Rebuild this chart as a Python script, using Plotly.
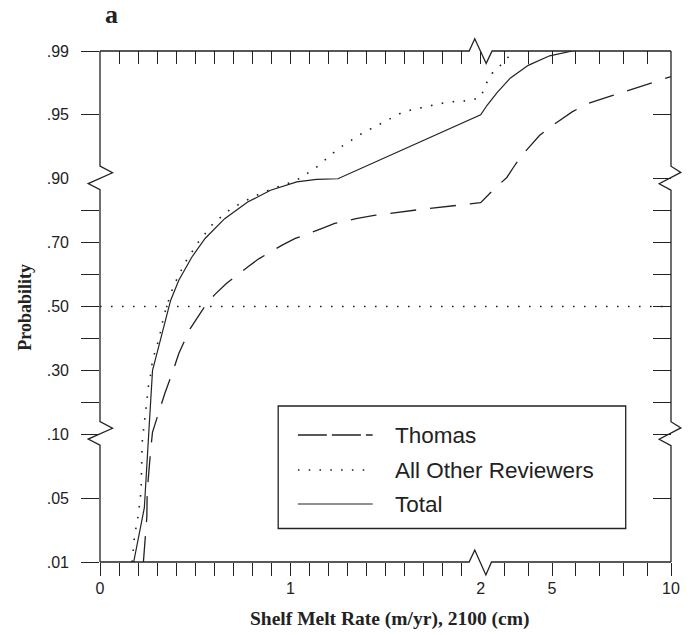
import numpy as np
import plotly.graph_objects as go

# ---------------- data (x: shelf melt rate m/yr, y: cumulative probability) ----------------
thomas_x = [0.228, 0.242, 0.246, 0.248, 0.255, 0.267, 0.276, 0.316, 0.340, 0.388, 0.414, 0.474,
            0.517, 0.560, 0.604, 0.664, 0.776, 0.836, 0.957, 1.026, 1.164, 1.233, 1.345, 1.448,
            1.672, 2.0, 2.55, 3.10, 3.38, 3.72, 4.48, 4.96, 5.86, 6.48, 7.52, 8.14, 9.24, 10.0]
thomas_p = [.010, .028, .038, .055, .069, .089, .107, .185, .227, .306, .353, .431,
            .472, .509, .538, .572, .624, .650, .692, .713, .744, .760, .775, .786,
            .803, .825, .867, .901, .909, .918, .934, .941, .952, .957, .962, .965, .970, .974]

others_x = [0.169, 0.181, 0.202, 0.216, 0.221, 0.228, 0.242, 0.255, 0.267, 0.276, 0.310, 0.336,
            0.371, 0.397, 0.448, 0.517, 0.595, 0.690, 0.802, 0.914, 1.026, 1.129, 1.224, 1.267,
            1.371, 1.483, 1.595, 1.707, 1.827, 1.948, 2.0, 2.25, 2.48, 2.83, 3.17, 3.4]
others_p = [.010, .026, .040, .056, .093, .107, .180, .253, .290, .332, .399, .472,
            .540, .577, .639, .702, .760, .807, .843, .871, .893, .908, .920, .925,
            .935, .944, .952, .955, .958, .959, .961, .970, .976, .981, .986, .990]

total_x = [0.177, 0.207, 0.233, 0.255, 0.267, 0.276, 0.290, 0.336, 0.371, 0.414, 0.483, 0.552,
           0.655, 0.776, 0.896, 1.034, 1.138, 1.25, 2.0, 2.27, 2.69, 3.24, 4.0, 4.90, 5.86]
total_p = [.010, .028, .044, .098, .227, .300, .332, .436, .519, .582, .655, .713,
           .775, .827, .864, .890, .898, .900, .950, .956, .964, .973, .981, .987, .990]

median_x = [0, 10]
median_p = [0.5, 0.5]

x_label_vals = [0, 1, 2, 5, 10]
x_label_text = ["0", "1", "2", "5", "10"]
y_label_vals = [.01, .05, .10, .30, .50, .70, .90, .95, .99]
y_label_text = [".01", ".05", ".10", ".30", ".50", ".70", ".90", ".95", ".99"]

x_ticks_bottom = [round(0.1 * i, 1) for i in range(20)] + list(range(3, 11))
x_ticks_top = [round(0.1 * i, 1) for i in range(21)] + list(range(3, 11))
y_ticks_left = [.01, .05, .10, .20, .30, .40, .50, .60, .70, .80, .95, .99]
y_ticks_right = [.01, .05, .10, .20, .30, .40, .50, .60, .70, .80, .90, .95, .99]

legend_names = ["Thomas", "All Other Reviewers", "Total"]
break_x = 2
break_p = [.10, .90]


# ---------------- broken scales ----------------
def xs(v):
    return np.interp(np.asarray(v, dtype=float), [0, 2, 10], [0, 2, 3])


def ys(v):
    return np.interp(np.asarray(v, dtype=float), [.01, .05, .10, .90, .95, .99], [0, 1, 2, 6, 7, 8])


# The page body has an 8px default margin: figure is sized/offset to fill the 691x635 window.
BODY = 8
W, H = 691 - BODY, 635 - BODY
PL, PT, PW, PH = 100, 51, 580, 511          # plot area in page pixels
ML, MT = PL - BODY, PT - BODY
MR, MB = W - ML - PW, H - MT - PH
XR, YR = [0, 3], [0, 8]


def px(x):  # page pixel -> paper
    return (x - PL) / PW


def py(y):
    return (PT + PH - y) / PH


def xpix(v):
    return PL + float(xs(v)) / XR[1] * PW


def ypix(v):
    return PT + PH - float(ys(v)) / YR[1] * PH


INK = "#222222"
SANS = "Liberation Sans, Arial, sans-serif"
SERIF = "Liberation Serif, Times New Roman, serif"

fig = go.Figure()

DASH_T = "26px,14px"
DOT = "1.6px,9.4px"

fig.add_trace(go.Scatter(x=xs(median_x), y=ys(median_p), mode="lines",
                         line=dict(color=INK, width=1.6, dash=DOT), showlegend=False, hoverinfo="skip"))
fig.add_trace(go.Scatter(x=xs(thomas_x), y=ys(thomas_p), mode="lines", name=legend_names[0],
                         line=dict(color=INK, width=1.3, dash=DASH_T), showlegend=False))
fig.add_trace(go.Scatter(x=xs(others_x), y=ys(others_p), mode="lines", name=legend_names[1],
                         line=dict(color=INK, width=1.6, dash=DOT), showlegend=False))
fig.add_trace(go.Scatter(x=xs(total_x), y=ys(total_p), mode="lines", name=legend_names[2],
                         line=dict(color=INK, width=1.2), showlegend=False))

# dummy traces so overlaid tick axes are drawn
for xa, ya in [("x2", "y"), ("x3", "y"), ("x", "y2"), ("x", "y3")]:
    fig.add_trace(go.Scatter(x=[None], y=[None], xaxis=xa, yaxis=ya, showlegend=False, hoverinfo="skip"))

common = dict(showgrid=False, zeroline=False, showline=False, tickmode="array")
tickfont = dict(family=SANS, size=16, color=INK)

fig.update_layout(
    width=W, height=H, margin=dict(l=ML, r=MR, t=MT, b=MB, pad=0),
    paper_bgcolor="white", plot_bgcolor="white", showlegend=False,
    xaxis=dict(range=XR, tickvals=list(xs(x_label_vals)), ticktext=x_label_text, ticks="",
               tickfont=tickfont, ticklabelstandoff=15, **common),
    xaxis2=dict(range=XR, overlaying="x", anchor="y", side="bottom", tickvals=list(xs(x_ticks_bottom)),
                ticks="outside", ticklen=13, tickwidth=1.3, tickcolor=INK, showticklabels=False, **common),
    xaxis3=dict(range=XR, overlaying="x", anchor="y", side="top", tickvals=list(xs(x_ticks_top)),
                ticks="inside", ticklen=13, tickwidth=1.3, tickcolor=INK, showticklabels=False, **common),
    yaxis=dict(range=YR, tickvals=list(ys(y_label_vals)), ticktext=y_label_text, ticks="",
               tickfont=tickfont, ticklabelstandoff=30, **common),
    yaxis2=dict(range=YR, overlaying="y", anchor="x", side="left", tickvals=list(ys(y_ticks_left)),
                ticks="outside", ticklen=18, tickwidth=1.3, tickcolor=INK, showticklabels=False, **common),
    yaxis3=dict(range=YR, overlaying="y", anchor="x", side="right", tickvals=list(ys(y_ticks_right)),
                ticks="inside", ticklen=18, tickwidth=1.3, tickcolor=INK, showticklabels=False, **common),
)

# ---------------- frame with break symbols ----------------
xb = xpix(break_x)
y10, y90 = ypix(break_p[0]), ypix(break_p[1])
top, bot, lef, rig = PT, PT + PH, PL, PL + PW


def path(points):
    s = ""
    for i, (x, y) in enumerate(points):
        s += ("M" if i == 0 else "L") + f"{px(x):.5f},{py(y):.5f} "
    return s


left_pts = [(lef, top)]
for yc in (y90, y10):
    left_pts += [(lef, yc - 12.7), (lef + 12.7, yc - 6), (lef - 12, yc + 4.8), (lef, yc + 11)]
left_pts += [(lef, bot)]
right_pts = [(rig, top)]
for yc in (y90, y10):
    right_pts += [(rig, yc - 12.5), (rig + 10, yc - 6.3), (rig - 12, yc + 5), (rig, yc + 11.4)]
right_pts += [(rig, bot)]
bottom_pts = [(lef, bot), (xb - 11.7, bot), (xb - 6, bot - 12), (xb + 5.3, bot + 13), (xb + 11, bot), (rig, bot)]
top_pts = [(lef, top), (xb - 11.7, top), (xb - 6, top - 12.3), (xb + 5.6, top + 12.4), (xb + 11.6, top), (rig, top)]

frame = path(left_pts) + path(right_pts) + path(bottom_pts) + path(top_pts)
fig.add_shape(type="path", path=frame, xref="paper", yref="paper",
              line=dict(color=INK, width=1.3), fillcolor="rgba(0,0,0,0)", layer="above")

# ---------------- legend box ----------------
fig.add_shape(type="rect", xref="paper", yref="paper", x0=px(281), x1=px(634), y0=py(528.5), y1=py(406),
              line=dict(color=INK, width=1.3), fillcolor="white", layer="above")
leg_y = [435, 470, 504]
leg_dash = ["29px,5px", "1.6px,9.2px", "solid"]
leg_w = [1.3, 1.6, 1.2]
for name, yy, d, lw in zip(legend_names, leg_y, leg_dash, leg_w):
    fig.add_shape(type="line", xref="paper", yref="paper", x0=px(301), x1=px(377), y0=py(yy), y1=py(yy),
                  line=dict(color=INK, width=lw, dash=d), layer="above")
    fig.add_annotation(xref="paper", yref="paper", x=px(398), y=py(yy), text=name, showarrow=False,
                       xanchor="left", yanchor="middle", font=dict(family=SANS, size=22.5, color=INK))

# ---------------- titles ----------------
fig.add_annotation(xref="paper", yref="paper", x=px(394.5), y=py(619), text="<b>Shelf Melt Rate (m/yr), 2100 (cm)</b>",
                   showarrow=False, xanchor="center", yanchor="middle", font=dict(family=SERIF, size=19.5, color=INK))
fig.add_annotation(xref="paper", yref="paper", x=px(23), y=py(307.5), text="<b>Probability</b>", textangle=-90,
                   showarrow=False, xanchor="center", yanchor="middle", font=dict(family=SERIF, size=18, color=INK))
fig.add_annotation(xref="paper", yref="paper", x=px(112), y=py(14), text="<b>a</b>",
                   showarrow=False, xanchor="center", yanchor="middle", font=dict(family=SERIF, size=26, color=INK))

fig.write_html("out.html")
